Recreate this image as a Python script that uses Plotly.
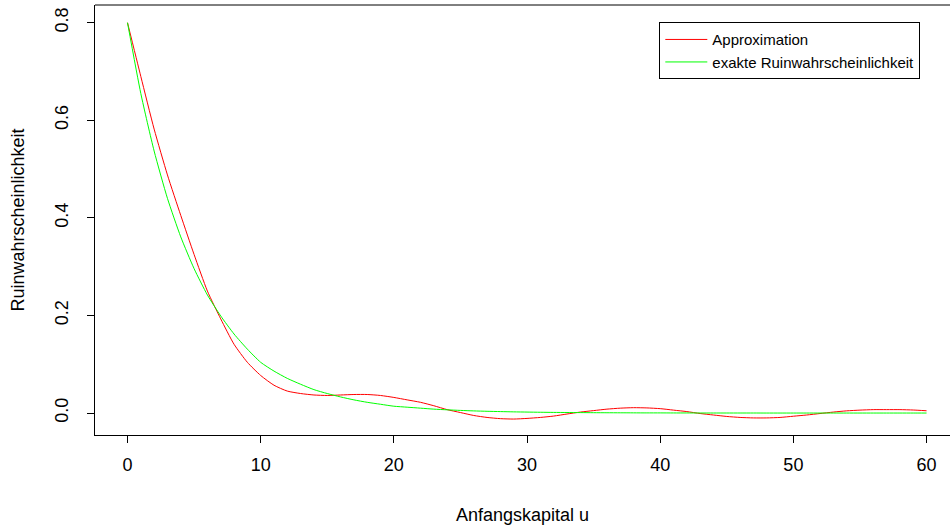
import plotly.graph_objects as go

u_values = list(range(0, 61))

approximation = [
    0.800, 0.690, 0.582, 0.488, 0.405, 0.325, 0.250, 0.193, 0.141, 0.104,
    0.077, 0.057, 0.045, 0.040, 0.037, 0.036, 0.037, 0.038, 0.038, 0.036,
    0.032, 0.027, 0.022, 0.015, 0.007, 0.001, -0.005, -0.009, -0.0115, -0.0123,
    -0.011, -0.009, -0.0062, -0.002, 0.002, 0.005, 0.008, 0.010, 0.011, 0.0105,
    0.009, 0.006, 0.003, -0.001, -0.004, -0.007, -0.009, -0.010, -0.010, -0.009,
    -0.0065, -0.004, -0.001, 0.002, 0.0045, 0.006, 0.007, 0.007, 0.007, 0.0062,
    0.0047,
]

exakt = [
    0.800, 0.655, 0.537, 0.440, 0.361, 0.296, 0.242, 0.199, 0.162, 0.131,
    0.104, 0.086, 0.071, 0.059, 0.048, 0.040, 0.033, 0.027, 0.022, 0.018,
    0.014, 0.012, 0.010, 0.008, 0.0066, 0.0054, 0.0044, 0.0036, 0.0030, 0.0024,
    0.0020, 0.0016, 0.0013, 0.0011, 0.0009, 0.0007, 0.0006, 0.0005, 0.0004, 0.0003,
    0.0003, 0.0002, 0.0002, 0.0001, 0.0001, 0.0001, 0.0001, 0.0001, 0.0, 0.0,
    0.0, 0.0, 0.0, 0.0, 0.0, 0.0, 0.0, 0.0, 0.0, 0.0,
    0.0,
]

x_ticks = [0, 10, 20, 30, 40, 50, 60]
y_ticks = [0.0, 0.2, 0.4, 0.6, 0.8]
y_tick_labels = ["0.0", "0.2", "0.4", "0.6", "0.8"]

FONT = "Liberation Sans, Arial, sans-serif"

fig = go.Figure()
fig.add_trace(go.Scatter(
    x=u_values, y=approximation, mode="lines", name="Approximation",
    line=dict(color="#FF0000", width=1, shape="spline", smoothing=0.6),
))
fig.add_trace(go.Scatter(
    x=u_values, y=exakt, mode="lines", name="exakte Ruinwahrscheinlichkeit",
    line=dict(color="#00FF00", width=1, shape="spline", smoothing=0.6),
))

fig.update_layout(
    width=950, height=529,
    margin=dict(l=95, r=0, t=5, b=94),
    paper_bgcolor="white", plot_bgcolor="white",
    font=dict(family=FONT, color="black"),
    legend=dict(
        x=0.66, y=0.96, xanchor="left", yanchor="top",
        bordercolor="black", borderwidth=1, bgcolor="white",
        font=dict(size=15, family=FONT),
        tracegroupgap=0, itemwidth=42,
    ),
    shapes=[dict(type="line", xref="paper", yref="paper", x0=0, x1=1, y0=1, y1=1,
                 line=dict(color="black", width=1))],
)

fig.update_xaxes(
    range=[-2.44, 61.76], tickvals=x_ticks, ticks="outside", ticklen=7,
    tickcolor="black", showline=True, linecolor="black", linewidth=1,
    showgrid=False, zeroline=False, tickfont=dict(size=18, family=FONT),
    ticklabelstandoff=6,
    title=dict(text="Anfangskapital u", font=dict(size=18, family=FONT), standoff=34),
)
fig.update_yaxes(
    range=[-0.045, 0.8363], tickvals=y_ticks, ticktext=y_tick_labels,
    ticks="outside", ticklen=7, tickcolor="black", showline=True,
    linecolor="black", linewidth=1, showgrid=False, zeroline=False,
    tickangle=-90, tickfont=dict(size=18, family=FONT), ticklabelstandoff=12,
    title=dict(text="Ruinwahrscheinlichkeit", font=dict(size=18, family=FONT), standoff=22),
)

fig.write_html("out.html", config={"displayModeBar": False},
               post_script="document.body.style.margin='0';")
